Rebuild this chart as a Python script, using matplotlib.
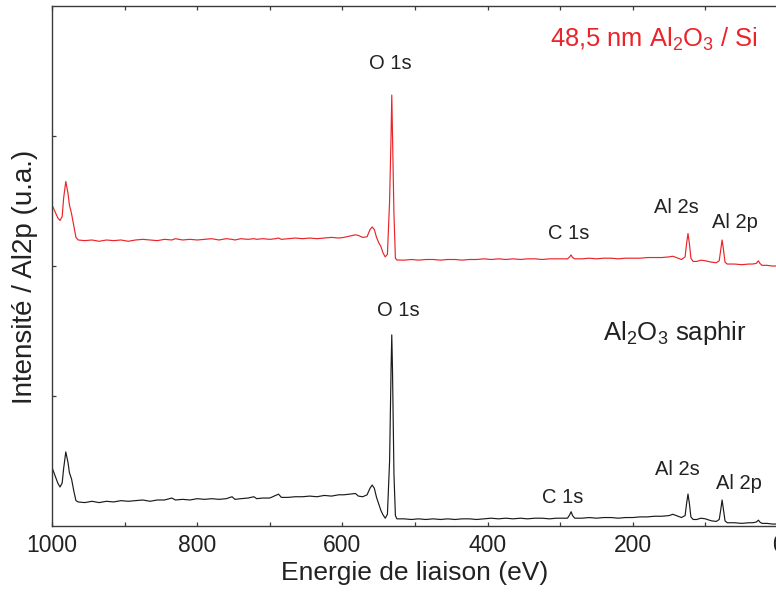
import matplotlib
matplotlib.use("Agg")
import matplotlib.pyplot as plt
from matplotlib.ticker import MultipleLocator

# Binding energy grid (eV) shared by both survey spectra
BE = [1000, 996, 992, 989, 986, 984, 981, 978, 976, 973, 970, 967, 964,
      955, 945, 935, 925, 915, 905, 895, 885, 875, 865, 855, 845, 835, 830, 820, 810, 800,
      790, 780, 770, 760, 752, 748, 740, 730, 722, 718, 710, 700, 692, 688, 684, 675, 665,
      655, 645, 635, 625, 615, 605, 598, 590, 582, 578, 572, 566, 562, 559, 556, 553, 550,
      547, 544, 541, 538, 535, 533, 532, 531, 529, 527, 525,
      515, 505, 495, 485, 475, 465, 455, 445, 435, 425, 415, 405, 395, 385, 375, 365, 355,
      345, 335, 325, 315, 305, 295,
      290, 287, 285, 283, 280, 270, 260, 250, 240, 230, 220, 210, 200, 190, 180, 170, 160,
      150, 145, 140, 133, 128, 126, 124, 122, 120, 117, 112, 106, 100, 92, 85, 81, 79, 77,
      75, 73, 70, 60, 50, 40, 35, 30, 27, 25, 22, 15, 8, 0]

# Al2O3 saphir (black, lower trace)
I_SAPHIR = [0.45, 0.39, 0.33, 0.30, 0.33, 0.44, 0.57, 0.49, 0.41, 0.36, 0.27, 0.195, 0.185,
            0.18, 0.19, 0.18, 0.19, 0.185, 0.195, 0.19, 0.195, 0.20, 0.19, 0.20, 0.20, 0.215, 0.20, 0.205, 0.20, 0.21,
            0.205, 0.21, 0.205, 0.21, 0.225, 0.205, 0.21, 0.215, 0.225, 0.21, 0.215, 0.215, 0.235, 0.245, 0.22, 0.22, 0.225,
            0.225, 0.23, 0.225, 0.235, 0.23, 0.24, 0.24, 0.245, 0.25, 0.23, 0.225, 0.24, 0.29, 0.315, 0.29, 0.22, 0.17,
            0.12, 0.085, 0.06, 0.09, 0.5, 1.2, 1.47, 1.2, 0.4, 0.08, 0.055,
            0.055, 0.05, 0.055, 0.05, 0.055, 0.05, 0.055, 0.05, 0.055, 0.055, 0.05, 0.055, 0.06, 0.055, 0.06, 0.055, 0.06,
            0.055, 0.06, 0.06, 0.055, 0.06, 0.06,
            0.06, 0.085, 0.11, 0.08, 0.06, 0.06, 0.065, 0.06, 0.065, 0.065, 0.06, 0.065, 0.065, 0.07, 0.07, 0.075, 0.075,
            0.08, 0.09, 0.08, 0.065, 0.08, 0.17, 0.246, 0.17, 0.07, 0.05, 0.05, 0.06, 0.055, 0.04, 0.035, 0.05, 0.12, 0.2,
            0.12, 0.04, 0.025, 0.025, 0.02, 0.025, 0.025, 0.03, 0.045, 0.03, 0.02, 0.02, 0.015, 0.015]

# 48,5 nm Al2O3 / Si (red, upper trace, offset)
I_FILM = [2.47, 2.42, 2.37, 2.35, 2.38, 2.52, 2.65, 2.56, 2.47, 2.40, 2.31, 2.22, 2.20,
          2.195, 2.20, 2.19, 2.20, 2.195, 2.20, 2.19, 2.20, 2.205, 2.20, 2.195, 2.205, 2.20, 2.21, 2.20, 2.205, 2.20,
          2.205, 2.21, 2.20, 2.21, 2.205, 2.20, 2.21, 2.205, 2.21, 2.205, 2.21, 2.205, 2.21, 2.215, 2.205, 2.21, 2.215,
          2.21, 2.215, 2.21, 2.215, 2.22, 2.215, 2.22, 2.23, 2.24, 2.235, 2.22, 2.225, 2.28, 2.30, 2.28, 2.22, 2.18,
          2.15, 2.10, 2.07, 2.09, 2.5, 3.0, 3.315, 3.0, 2.4, 2.06, 2.046,
          2.045, 2.05, 2.045, 2.05, 2.05, 2.045, 2.05, 2.05, 2.045, 2.05, 2.05, 2.055, 2.05, 2.055, 2.05, 2.055, 2.05,
          2.055, 2.055, 2.05, 2.055, 2.055, 2.055,
          2.055, 2.07, 2.085, 2.065, 2.055, 2.055, 2.06, 2.055, 2.06, 2.06, 2.055, 2.06, 2.06, 2.06, 2.065, 2.065, 2.065,
          2.07, 2.075, 2.065, 2.05, 2.07, 2.17, 2.25, 2.17, 2.06, 2.035, 2.035, 2.045, 2.04, 2.03, 2.025, 2.04, 2.12, 2.2,
          2.12, 2.03, 2.015, 2.015, 2.01, 2.015, 2.015, 2.02, 2.04, 2.02, 2.005, 2.005, 2.0, 2.0]

# peak labels: (text, BE, baseline y)
LABELS_FILM = [("O 1s", 534, 3.515), ("C 1s", 289, 2.204),
               ("Al 2s", 140.5, 2.408), ("Al 2p", 59, 2.292)]
LABELS_SAPHIR = [("O 1s", 523, 1.618), ("C 1s", 297, 0.18),
                 ("Al 2s", 139, 0.392), ("Al 2p", 54, 0.285)]

RED = "#ec2329"
BLACK = "#1a1a1a"
SPINE = "#3a3a3a"
TEXT = "#222222"

plt.rcParams["font.family"] = ["Liberation Sans", "DejaVu Sans"]
plt.rcParams["mathtext.fontset"] = "custom"
plt.rcParams["mathtext.rm"] = "Liberation Sans"
plt.rcParams["mathtext.default"] = "regular"

fig = plt.figure(figsize=(7.76, 5.93), dpi=100)
ax = fig.add_axes([0.0670, 0.1130, 0.9356, 0.8769])

ax.plot(BE, I_SAPHIR, color=BLACK, linewidth=0.85)
ax.plot(BE, I_FILM, color=RED, linewidth=0.85)

ax.set_xlim(1000, 0)
ax.set_ylim(0, 4)

ax.xaxis.set_major_locator(MultipleLocator(200))
ax.xaxis.set_minor_locator(MultipleLocator(100))
ax.set_yticks([1, 2, 3])
ax.set_yticklabels([])
ax.tick_params(axis="x", which="both", direction="in", top=True, length=3,
               width=0.9, color=SPINE, pad=6, labelsize=16.5, labelcolor=TEXT)
ax.tick_params(axis="y", direction="in", length=3, width=0.9, color=SPINE, right=False)

for spine in ax.spines.values():
    spine.set_linewidth(1.0)
    spine.set_color(SPINE)

ax.set_xlabel("Energie de liaison (eV)", fontsize=19, color=TEXT, labelpad=3)
ax.set_ylabel("Intensité / Al2p (u.a.)", fontsize=20, color=TEXT)
ax.yaxis.set_label_coords(-0.019, 0.479)

for text, x, y in LABELS_FILM + LABELS_SAPHIR:
    ax.text(x, y, text, ha="center", va="baseline", fontsize=14.5, color=TEXT)

ax.text(314, 3.687, r"48,5 nm Al$_2$O$_3$ / Si", ha="left", va="baseline",
        fontsize=18.4, color=RED)
ax.text(241, 1.43, r"Al$_2$O$_3$ saphir", ha="left", va="baseline",
        fontsize=18.5, color=TEXT)

fig.savefig("out.png", dpi=100, facecolor="white")
